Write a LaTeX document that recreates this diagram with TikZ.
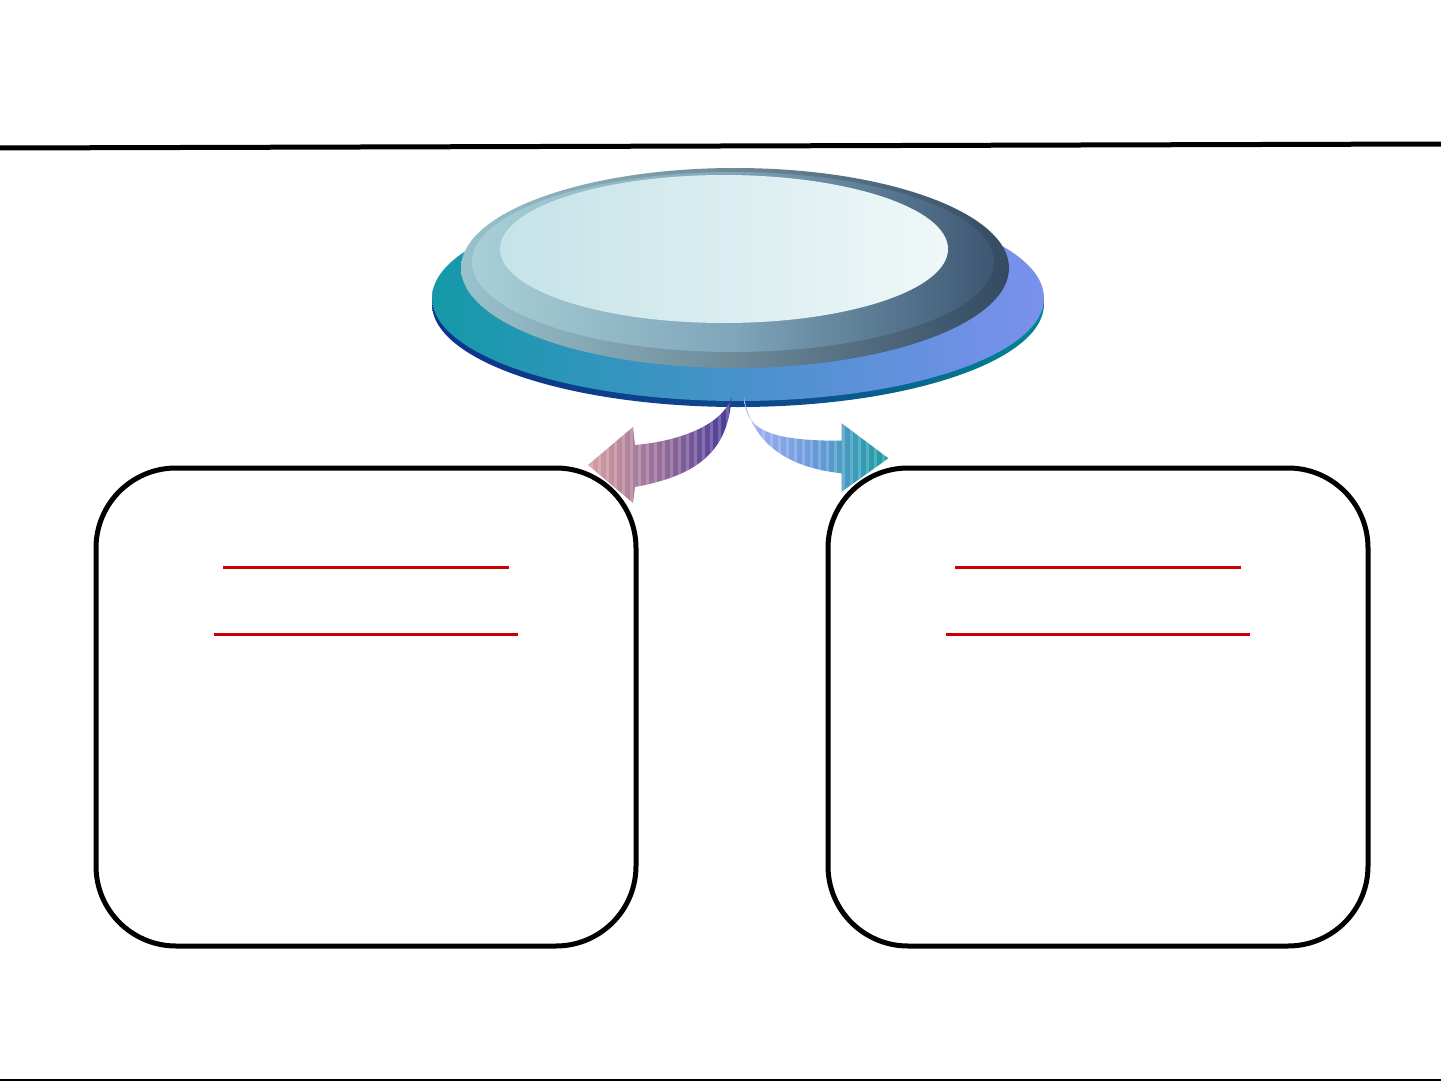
\documentclass[tikz,border=0pt]{standalone}
\usetikzlibrary{calc}
\definecolor{redln}{RGB}{204,0,0}
\pgfdeclarehorizontalshading{backtop}{100bp}{rgb(0bp)=(0.08,0.6,0.66); rgb(25bp)=(0.08,0.6,0.66); rgb(50bp)=(0.28,0.57,0.8); rgb(75bp)=(0.48,0.57,0.93); rgb(100bp)=(0.48,0.57,0.93)}
\pgfdeclarehorizontalshading{backedge}{100bp}{rgb(0bp)=(0.05,0.2,0.55); rgb(25bp)=(0.05,0.2,0.55); rgb(55bp)=(0.05,0.3,0.55); rgb(75bp)=(0,0.53,0.57); rgb(100bp)=(0,0.53,0.57)}
\pgfdeclarehorizontalshading{ringout}{100bp}{rgb(0bp)=(0.6,0.76,0.8); rgb(25bp)=(0.6,0.76,0.8); rgb(50bp)=(0.43,0.54,0.6); rgb(75bp)=(0.2,0.29,0.38); rgb(100bp)=(0.2,0.29,0.38)}
\pgfdeclarehorizontalshading{ringin}{100bp}{rgb(0bp)=(0.66,0.81,0.84); rgb(25bp)=(0.66,0.81,0.84); rgb(50bp)=(0.5,0.65,0.73); rgb(75bp)=(0.24,0.34,0.45); rgb(100bp)=(0.24,0.34,0.45)}
\pgfdeclarehorizontalshading{topface}{100bp}{rgb(0bp)=(0.77,0.89,0.91); rgb(25bp)=(0.77,0.89,0.91); rgb(75bp)=(0.94,0.97,0.97); rgb(100bp)=(0.94,0.97,0.97)}
\pgfdeclarehorizontalshading{larrow}{100bp}{rgb(0bp)=(0.85,0.63,0.63); rgb(25bp)=(0.85,0.63,0.63); rgb(50bp)=(0.58,0.42,0.6); rgb(75bp)=(0.24,0.2,0.6); rgb(100bp)=(0.24,0.2,0.6)}
\pgfdeclarehorizontalshading{rarrow}{100bp}{rgb(0bp)=(0.66,0.71,0.97); rgb(25bp)=(0.66,0.71,0.97); rgb(50bp)=(0.4,0.6,0.85); rgb(75bp)=(0.09,0.62,0.62); rgb(100bp)=(0.09,0.62,0.62)}
\tikzset{
  box/.style={draw=black, line width=5pt, rounded corners=80pt, fill=white,
    minimum width=540pt, minimum height=478pt, inner sep=0pt},
  redline/.style={draw=redln, line width=3pt},
  rule/.style={draw=black, line width=5pt},
}
\begin{document}
\begin{tikzpicture}[x=1pt,y=-1pt]
\useasboundingbox (0,0) rectangle (1441,1081);
\fill[white] (0,0) rectangle (1441,1081);
% rules
\coordinate (tl) at (0,148);
\coordinate (tr) at (1441,144);
\draw[rule] (tl) -- (tr);
\coordinate (bl) at (0,1080);
\coordinate (br) at (1441,1080);
\draw[black, line width=2pt] (bl) -- (br);
% disc
\coordinate (disc) at (738,298);
\shade[shading=backedge] (738,304) ellipse [x radius=306pt, y radius=103pt];
\shade[shading=backtop] (disc) ellipse [x radius=306pt, y radius=103pt];
\shade[shading=ringout] (735,268) ellipse [x radius=274pt, y radius=100pt];
\shade[shading=ringin] (733,262) ellipse [x radius=261pt, y radius=90pt];
\shade[shading=topface] (724,249) ellipse [x radius=224pt, y radius=74pt];
% boxes
\node[box] (lbox) at (366,707) {};
\node[box] (rbox) at (1098,707) {};
% red lines
\draw[redline] ($(lbox.center)+(-143,-140)$) -- ($(lbox.center)+(143,-140)$);
\draw[redline] ($(lbox.center)+(-152,-73)$) -- ($(lbox.center)+(152,-73)$);
\draw[redline] ($(rbox.center)+(-143,-140)$) -- ($(rbox.center)+(143,-140)$);
\draw[redline] ($(rbox.center)+(-152,-73)$) -- ($(rbox.center)+(152,-73)$);
% left arrow
\coordinate (la) at (731.7,396.7);
\begin{scope}
\clip (la) .. controls (725,420) and (690,440) .. (635,445) -- (633,427) -- (588,465) -- (633,503) -- (635,487) .. controls (700,475) and (728,450) .. (la) -- cycle;
\shade[shading=larrow] (585,390) rectangle (740,505);
\foreach \x in {590,598,...,740} \fill[white,opacity=0.2] (\x,390) rectangle (\x+3,505);
\end{scope}
% right arrow
\coordinate (ra) at (744,396.7);
\begin{scope}
\clip (ra) .. controls (745,428) and (765,441) .. (841.7,440.7) -- (841.7,423.3) -- (888.3,458.3) -- (841.7,491.7) -- (841.7,473.3) .. controls (790,468) and (752,445) .. (ra) -- cycle;
\shade[shading=rarrow] (740,390) rectangle (890,495);
\foreach \x in {746,754,...,890} \fill[white,opacity=0.2] (\x,390) rectangle (\x+3,495);
\end{scope}
\end{tikzpicture}
\end{document}
